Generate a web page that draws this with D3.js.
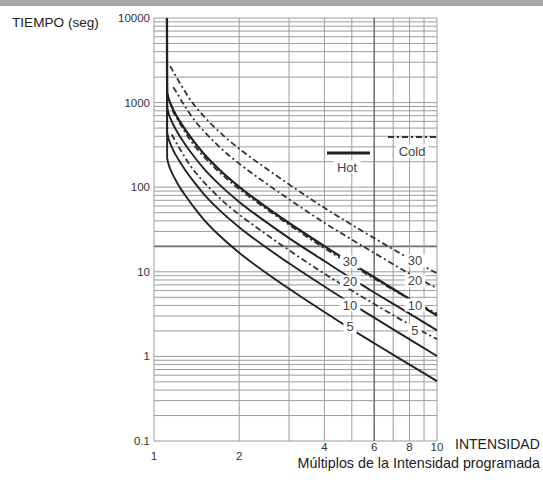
<!DOCTYPE html>
<html>
<head>
<meta charset="utf-8">
<script src="https://cdn.jsdelivr.net/npm/d3@7"></script>
<style>
  body { margin: 0; background: #fff; }
  svg { display: block; font-family: "Liberation Sans", Arial, sans-serif; }
</style>
</head>
<body>
<svg id="chart" width="543" height="480"></svg>
<script>
// trip classes, same order for hot and cold families
const classes = ['30', '20', '10', '5'];

// hot curves share one x list (multiples of the set current)
const hotX  = [1.111, 1.113, 1.12, 1.13, 1.15, 1.17, 1.2, 1.25, 1.3, 1.4, 1.5, 1.7, 2, 2.5, 3, 4, 5, 6, 8, 10];
const hot30 = [10000, 1350, 1200, 1080, 930, 820, 700, 560, 460, 330, 249, 162, 101, 57.6, 37.7, 20.1, 12.5, 8.6, 4.77, 3.04];
const hot20 = [10000, 900, 800, 720, 620, 547, 467, 373, 307, 220, 166, 108, 67, 38.4, 25, 13.4, 8.3, 5.7, 3.2, 2.03];
const hot10 = [10000, 450, 400, 360, 310, 273, 233, 187, 153, 110, 83, 54, 33.7, 19.2, 12.6, 6.7, 4.17, 2.87, 1.59, 1.01];
const hot5  = [10000, 225, 200, 180, 155, 137, 117, 93, 77, 55, 41.5, 27, 16.8, 9.6, 6.3, 3.35, 2.08, 1.43, 0.8, 0.51];

// cold curves, [multiple, seconds]
const cold30 = [[1.14, 2700], [1.2, 2000], [1.26, 1520], [1.32, 1180], [1.4, 900], [1.5, 690], [1.6, 550], [1.8, 380], [2, 285], [2.5, 165], [3, 108], [4, 57], [5, 36], [6, 25], [8, 14.3], [10, 9.6]];
const cold20 = [[1.17, 1520], [1.2, 1330], [1.26, 1010], [1.32, 790], [1.4, 600], [1.5, 460], [1.6, 367], [1.8, 253], [2, 190], [2.5, 110], [3, 72], [4, 38], [5, 24], [6, 16.7], [8, 9.5], [10, 6.4]];
const cold10 = [[1.16, 810], [1.2, 667], [1.26, 507], [1.32, 393], [1.4, 300], [1.5, 230], [1.6, 183], [1.8, 127], [2, 95], [2.5, 55], [3, 36], [4, 19], [5, 12], [6, 8.3], [8, 4.77], [10, 3.2]];
const cold5  = [[1.155, 420], [1.2, 333], [1.26, 253], [1.32, 197], [1.4, 150], [1.5, 115], [1.6, 92], [1.8, 63], [2, 47.5], [2.5, 27.5], [3, 18], [4, 9.5], [5, 6], [6, 4.17], [8, 2.38], [10, 1.6]];

// where the class numbers sit on the curves
const hotLabelX = 4.93;
const hotLabelT = [13.1, 7.6, 4.05, 2.23];
const coldLabelX = 8.36;
const coldLabelT = [13.5, 7.8, 4.05, 2.05];

// tick labels
const yLabels = [0.1, 1, 10, 100, 1000, 10000];
const xLabels = [1, 2, 4, 6, 8, 10];

const svg = d3.select('#chart');
const x = d3.scaleLog().domain([1, 10]).range([154, 437]);
const y = d3.scaleLog().domain([0.1, 10000]).range([441, 18]);

// grey strip along the top
svg.append('rect').attr('x', 0).attr('y', 0).attr('width', 543).attr('height', 6).attr('fill', '#a7a7a9');

// grid
const grid = svg.append('g');
grid.selectAll('.h').data(y.ticks()).join('line')
  .attr('x1', x(1)).attr('x2', x(10))
  .attr('y1', d => y(d)).attr('y2', d => y(d))
  .attr('stroke', d => d === 20 ? '#6e6e6e' : '#9d9d9d')
  .attr('stroke-width', d => d === 20 ? 1.6 : 1);
grid.selectAll('.v').data(x.ticks()).join('line')
  .attr('y1', y(10000)).attr('y2', y(0.1))
  .attr('x1', d => x(d)).attr('x2', d => x(d))
  .attr('stroke', d => d === 6 ? '#6e6e6e' : '#9d9d9d')
  .attr('stroke-width', d => d === 6 ? 1.5 : 1);

const line = d3.line()
  .x(d => x(d[0]))
  .y(d => y(d[1]))
  .curve(d3.curveMonotoneX);

const hotSeries = [hot30, hot20, hot10, hot5].map(v => hotX.map((xx, i) => [xx, v[i]]));
const coldSeries = [cold30, cold20, cold10, cold5];

svg.append('g').selectAll('path').data(coldSeries).join('path')
  .attr('d', line)
  .attr('fill', 'none')
  .attr('stroke', '#333')
  .attr('stroke-width', 1.8)
  .attr('stroke-dasharray', '6,3,2,3');

svg.append('g').selectAll('path').data(hotSeries).join('path')
  .attr('d', line)
  .attr('fill', 'none')
  .attr('stroke', '#222')
  .attr('stroke-width', (d, i) => i === 0 ? 2.3 : 1.9);

// text with a white box behind it, so it cuts the lines
function boxedText(g, px, py, txt, size) {
  const grp = g.append('g');
  const t = grp.append('text')
    .attr('x', px).attr('y', py)
    .attr('text-anchor', 'middle')
    .attr('dominant-baseline', 'central')
    .attr('font-size', size)
    .attr('fill', '#444')
    .text(txt);
  const b = t.node().getBBox();
  grp.insert('rect', 'text')
    .attr('x', b.x - 3).attr('y', b.y + 1)
    .attr('width', b.width + 6).attr('height', b.height - 2)
    .attr('fill', '#fff');
}

const labels = svg.append('g');
classes.forEach((c, i) => {
  boxedText(labels, x(hotLabelX), y(hotLabelT[i]), c, 13);
  boxedText(labels, x(coldLabelX), y(coldLabelT[i]), c, 13);
});

// legend
const legend = svg.append('g');
legend.append('line').attr('x1', 327).attr('x2', 370).attr('y1', 153).attr('y2', 153)
  .attr('stroke', '#222').attr('stroke-width', 3);
boxedText(legend, 347, 167, 'Hot', 13);
legend.append('line').attr('x1', 388).attr('x2', 437).attr('y1', 137).attr('y2', 137)
  .attr('stroke', '#333').attr('stroke-width', 2).attr('stroke-dasharray', '6,3,2,3');
boxedText(legend, 412, 151, 'Cold', 13);

// axes text
const yAxis = svg.append('g')
  .attr('transform', `translate(${x(1)},0)`)
  .call(d3.axisLeft(y).tickValues(yLabels).tickFormat(d => String(d)).tickSize(0).tickPadding(4));
yAxis.select('.domain').remove();
yAxis.selectAll('text')
  .attr('font-family', '"Liberation Sans", Arial, sans-serif')
  .attr('font-size', 11.5).attr('fill', '#333').attr('dy', '0.3em');

svg.append('g').selectAll('text').data(xLabels).join('text')
  .attr('x', d => x(d))
  .attr('y', d => d <= 2 ? 460 : 451)
  .attr('text-anchor', 'middle')
  .attr('font-size', 11.5)
  .attr('fill', '#333')
  .text(d => d);

svg.append('text').attr('x', 12).attr('y', 27).attr('font-size', 13.6).attr('fill', '#222').text('TIEMPO (seg)');
svg.append('text').attr('x', 455).attr('y', 449).attr('font-size', 14).attr('fill', '#222').text('INTENSIDAD');
svg.append('text').attr('x', 540).attr('y', 468).attr('text-anchor', 'end').attr('font-size', 14.3).attr('fill', '#222')
  .text('Múltiplos de la Intensidad programada');
</script>
</body>
</html>
